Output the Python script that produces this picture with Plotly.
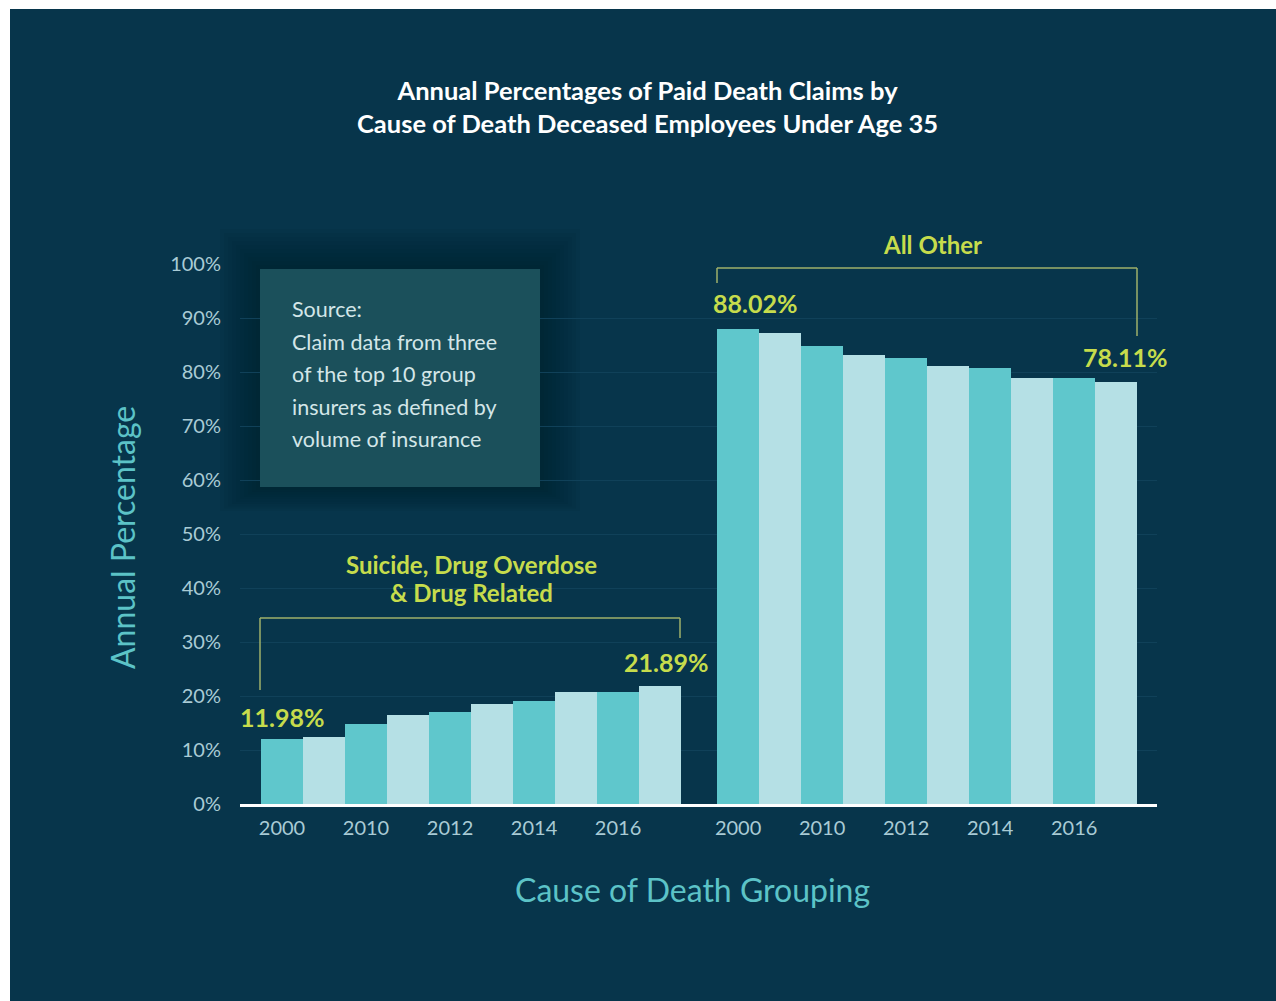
import plotly.graph_objects as go

# ---- data ----
tick_labels = ["2000", "2010", "2012", "2014", "2016"]
suicide_vals = [11.98, 12.4, 14.8, 16.4, 17.1, 18.5, 19.1, 20.8, 20.8, 21.89]
other_vals = [88.02, 87.3, 84.9, 83.2, 82.6, 81.2, 80.7, 78.9, 78.8, 78.11]
group_name_lines = ["Suicide, Drug Overdose", "& Drug Related"]
other_name = "All Other"
source_lines = ["Source:", "Claim data from three", "of the top 10 group",
                "insurers as defined by", "volume of insurance"]

# ---- style ----
BG = "#07354b"
TEAL = "#5fc7cc"
LIGHT = "#b5e0e5"
YEL = "#c6dc4c"
BRACKET = "#9fb06a"
TICK = "#a9cbd5"
AXT = "#5cc3c7"
FONT = "Lato"

W, H = 1276, 1001
L, R, T, B = 240, 119, 264, 197
PW, PH = W - L - R, H - T - B


def px(xp):
    return (xp - L) / PW


def py(yp):
    return (H - B - yp) / PH


gap = 36 / 42.0
x_left = list(range(len(suicide_vals)))
x_right = [10 + gap + i for i in range(len(other_vals))]
colors = [TEAL if i % 2 == 0 else LIGHT for i in range(10)]

fig = go.Figure()
fig.add_trace(go.Bar(x=x_left, y=suicide_vals, width=1.0, marker=dict(color=colors, line=dict(width=0)),
                     hoverinfo="y", showlegend=False))
fig.add_trace(go.Bar(x=x_right, y=other_vals, width=1.0, marker=dict(color=colors, line=dict(width=0)),
                     hoverinfo="y", showlegend=False))

tickvals = [x_left[i] for i in (0, 2, 4, 6, 8)] + [x_right[i] for i in (0, 2, 4, 6, 8)]
ticktext = tick_labels + tick_labels

shapes = []
# white frame strips
shapes.append(dict(type="rect", xref="paper", yref="paper", x0=px(0), x1=px(10), y0=py(0), y1=py(H),
                   fillcolor="white", line=dict(width=0), layer="above"))
shapes.append(dict(type="rect", xref="paper", yref="paper", x0=px(0), x1=px(W), y0=py(0), y1=py(9),
                   fillcolor="white", line=dict(width=0), layer="above"))
# source box soft shadow + box
for i in range(10):
    d = 40 - i * 4
    shapes.append(dict(type="rect", xref="paper", yref="paper",
                       x0=px(260 - d), x1=px(540 + d), y0=py(487 + d * 0.6), y1=py(269 - d),
                       fillcolor="rgba(0,15,25,0.045)", line=dict(width=0), layer="below"))
shapes.append(dict(type="rect", xref="paper", yref="paper", x0=px(260), x1=px(540), y0=py(487), y1=py(269),
                   fillcolor="#1b505b", line=dict(width=0), layer="above"))

# brackets
bl = dict(color=BRACKET, width=1.5)
shapes += [
    dict(type="line", xref="paper", yref="paper", x0=px(260), x1=px(680), y0=py(618), y1=py(618), line=bl),
    dict(type="line", xref="paper", yref="paper", x0=px(260), x1=px(260), y0=py(618), y1=py(690), line=bl),
    dict(type="line", xref="paper", yref="paper", x0=px(680), x1=px(680), y0=py(618), y1=py(638), line=bl),
    dict(type="line", xref="paper", yref="paper", x0=px(717), x1=px(1137), y0=py(268), y1=py(268), line=bl),
    dict(type="line", xref="paper", yref="paper", x0=px(717), x1=px(717), y0=py(268), y1=py(283), line=bl),
    dict(type="line", xref="paper", yref="paper", x0=px(1137), x1=px(1137), y0=py(268), y1=py(336), line=bl),
]

ann = []
gf = dict(family=FONT, size=24, color=YEL, weight="bold")
for i, line in enumerate(group_name_lines):
    ann.append(dict(text=line, xref="paper", yref="paper", x=px(471), y=py(564 + 28 * i), showarrow=False,
                    font=gf, xanchor="center", yanchor="middle"))
ann.append(dict(text=other_name, xref="paper", yref="paper", x=px(932), y=py(244), showarrow=False,
                font=gf, xanchor="center", yanchor="middle"))
# value labels
vl = dict(family=FONT, size=25, color=YEL, weight="bold")
ann.append(dict(text=f"{suicide_vals[0]:.2f}%", x=x_left[0], y=suicide_vals[0], xref="x", yref="y",
                showarrow=False, yshift=22, yanchor="middle", font=vl))
ann.append(dict(text=f"{suicide_vals[-1]:.2f}%", x=x_left[-1] + 0.15, y=suicide_vals[-1], xref="x", yref="y",
                showarrow=False, yshift=24, yanchor="middle", font=vl))
ann.append(dict(text=f"{other_vals[0]:.2f}%", x=x_right[0] + 0.4, y=other_vals[0], xref="x", yref="y",
                showarrow=False, yshift=26, yanchor="middle", font=vl))
ann.append(dict(text=f"{other_vals[-1]:.2f}%", x=x_right[-1] + 0.2, y=other_vals[-1], xref="x", yref="y",
                showarrow=False, yshift=25, yanchor="middle", font=vl))
# source text
for i, line in enumerate(source_lines):
    ann.append(dict(text=line, xref="paper", yref="paper", x=px(290), y=py(309 + i * 32.5), showarrow=False,
                    xanchor="left", yanchor="middle", font=dict(family=FONT, size=21.5, color="#d3e6e8")))
# axis titles
ann.append(dict(text="Annual Percentage", xref="paper", yref="paper", x=px(122), y=py(537), showarrow=False,
                textangle=-90, xanchor="center", yanchor="middle", font=dict(family=FONT, size=32, color=AXT)))
ann.append(dict(text="Cause of Death Grouping", xref="paper", yref="paper", x=px(692), y=py(889),
                showarrow=False, xanchor="center", yanchor="middle", font=dict(family=FONT, size=32, color=AXT)))
# title
ann.append(dict(text="Annual Percentages of Paid Death Claims by<br>Cause of Death Deceased Employees Under Age 35",
                xref="paper", yref="paper", x=px(647), y=py(106), showarrow=False, xanchor="center",
                yanchor="middle", font=dict(family=FONT, size=25.5, color="white", weight="bold")))

fig.update_layout(
    width=W, height=H, margin=dict(l=L, r=R, t=T, b=B),
    paper_bgcolor=BG, plot_bgcolor=BG, bargap=0,
    shapes=shapes, annotations=ann,
    xaxis=dict(range=[-1.0, 20.83], tickvals=tickvals, ticktext=ticktext, showgrid=False, zeroline=False,
               showline=True, linecolor="white", linewidth=3, ticks="", ticklabelstandoff=4,
               tickfont=dict(family=FONT, size=20, color=TICK), fixedrange=True),
    yaxis=dict(range=[0, 100], dtick=10, ticksuffix="%", showgrid=True, gridcolor="#104159", gridwidth=1,
               zeroline=False, showline=False, ticks="", ticklabelstandoff=18,
               tickfont=dict(family=FONT, size=20, color=TICK), fixedrange=True),
)

fig.write_html("out.html", config={"displayModeBar": False},
               post_script="document.body.style.margin='0px';document.body.style.overflow='hidden';")
